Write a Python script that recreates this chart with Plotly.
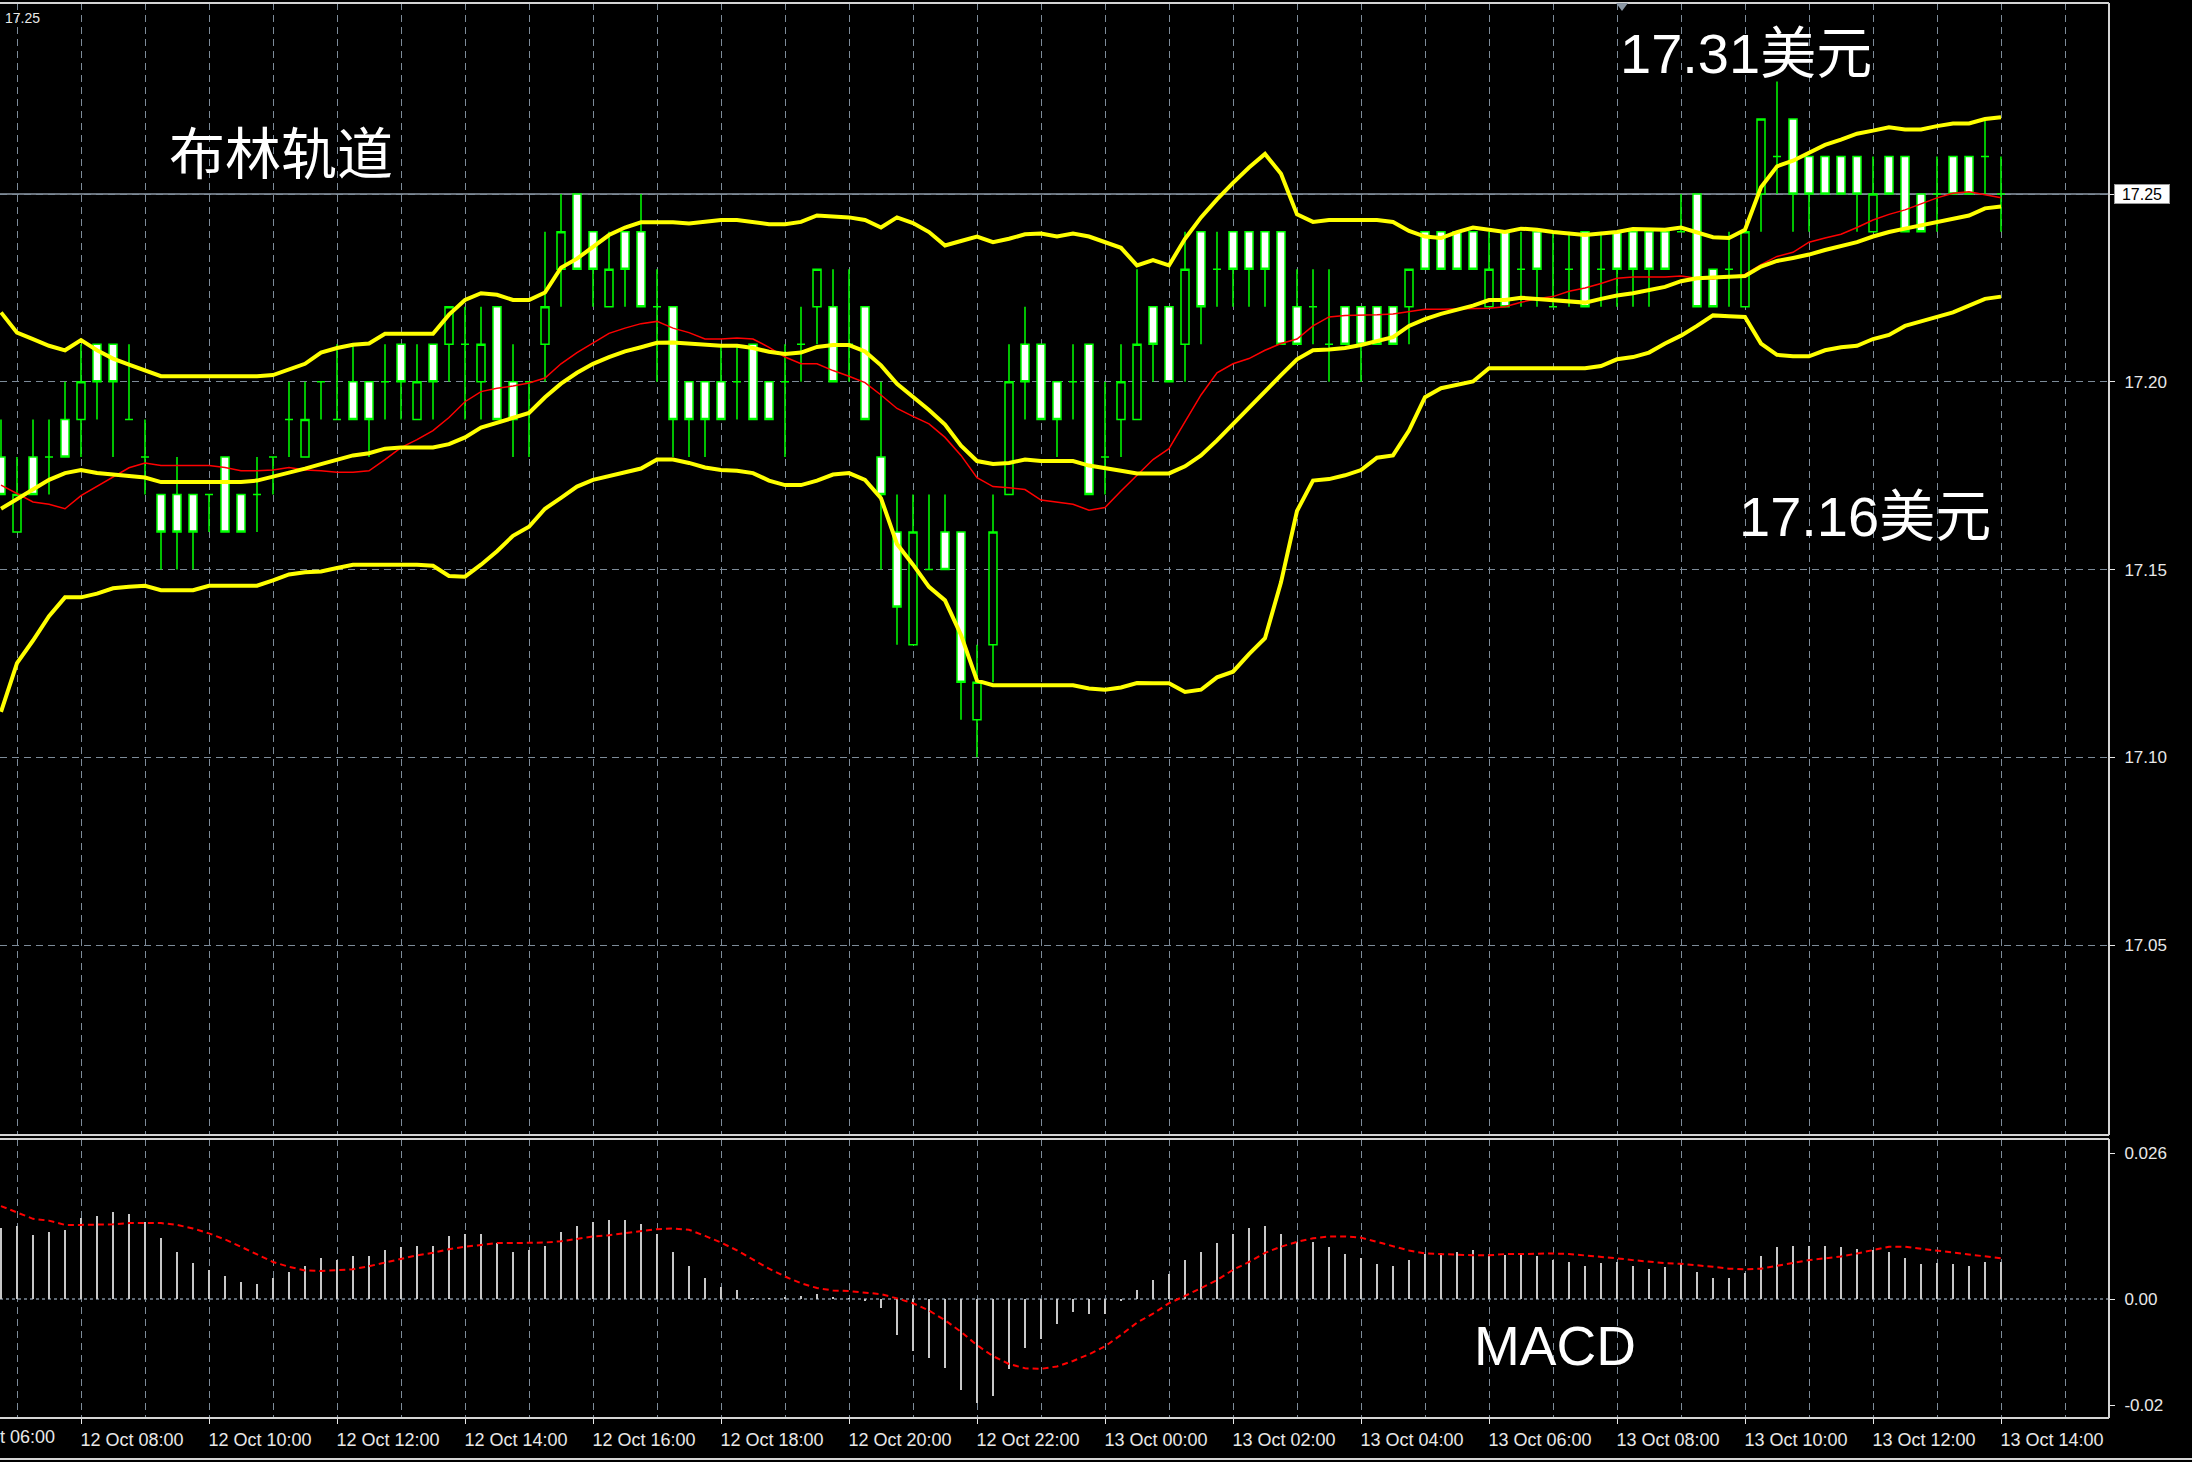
import pandas as pd
import plotly.graph_objects as go

# ---------------- data (XAG/USD, M15) ----------------
times = pd.date_range("2017-10-12 06:45", periods=126, freq="15min")

opens = [
17.18,17.16,17.18,17.18,17.19,17.19,17.21,17.21,17.19,17.18,
17.17,17.17,17.17,17.17,17.18,17.17,17.17,17.18,17.19,17.18,
17.20,17.19,17.20,17.20,17.20,17.21,17.19,17.21,17.21,17.21,
17.20,17.22,17.20,17.20,17.21,17.23,17.25,17.24,17.22,17.24,
17.24,17.22,17.22,17.20,17.20,17.20,17.20,17.21,17.20,17.20,
17.21,17.22,17.22,17.21,17.22,17.18,17.16,17.13,17.15,17.16,
17.16,17.11,17.13,17.17,17.21,17.21,17.20,17.20,17.21,17.18,
17.19,17.19,17.22,17.22,17.21,17.24,17.23,17.24,17.24,17.24,
17.24,17.22,17.22,17.21,17.22,17.22,17.22,17.22,17.22,17.24,
17.24,17.24,17.24,17.22,17.24,17.23,17.24,17.22,17.23,17.24,
17.23,17.24,17.24,17.24,17.24,17.24,17.25,17.23,17.23,17.22,
17.25,17.26,17.27,17.26,17.26,17.26,17.26,17.24,17.26,17.26,
17.25,17.25,17.26,17.26,17.26,17.25]

highs = [
17.19,17.18,17.19,17.19,17.20,17.21,17.21,17.21,17.21,17.19,
17.17,17.18,17.17,17.17,17.18,17.17,17.18,17.18,17.20,17.20,
17.20,17.21,17.21,17.20,17.21,17.21,17.21,17.21,17.22,17.22,
17.22,17.22,17.21,17.20,17.24,17.25,17.25,17.24,17.24,17.24,
17.25,17.23,17.22,17.20,17.20,17.21,17.21,17.21,17.20,17.21,
17.22,17.23,17.23,17.23,17.22,17.20,17.17,17.17,17.17,17.17,
17.16,17.13,17.17,17.21,17.22,17.21,17.20,17.21,17.21,17.20,
17.21,17.23,17.22,17.22,17.24,17.24,17.24,17.24,17.24,17.24,
17.24,17.23,17.23,17.23,17.22,17.22,17.22,17.22,17.23,17.24,
17.24,17.24,17.24,17.24,17.24,17.24,17.24,17.24,17.24,17.24,
17.24,17.24,17.24,17.24,17.24,17.25,17.25,17.23,17.24,17.24,
17.27,17.28,17.27,17.26,17.26,17.26,17.26,17.26,17.26,17.26,
17.25,17.26,17.26,17.26,17.27,17.26]

lows = [
17.17,17.16,17.17,17.17,17.18,17.18,17.19,17.18,17.19,17.17,
17.15,17.15,17.15,17.16,17.16,17.16,17.16,17.17,17.18,17.18,
17.19,17.19,17.19,17.18,17.19,17.19,17.19,17.19,17.20,17.19,
17.19,17.19,17.18,17.18,17.20,17.22,17.23,17.22,17.22,17.22,
17.22,17.20,17.18,17.18,17.18,17.19,17.19,17.19,17.19,17.18,
17.20,17.21,17.20,17.20,17.19,17.15,17.13,17.13,17.15,17.15,
17.11,17.10,17.12,17.17,17.19,17.19,17.18,17.19,17.17,17.17,
17.18,17.19,17.20,17.20,17.20,17.21,17.22,17.22,17.22,17.22,
17.21,17.21,17.21,17.20,17.21,17.20,17.21,17.21,17.21,17.23,
17.23,17.23,17.23,17.22,17.22,17.22,17.22,17.22,17.22,17.22,
17.22,17.22,17.22,17.22,17.23,17.24,17.22,17.22,17.22,17.22,
17.24,17.25,17.24,17.24,17.25,17.25,17.24,17.24,17.25,17.24,
17.24,17.24,17.25,17.25,17.25,17.24]

closes = [
17.17,17.17,17.17,17.18,17.18,17.20,17.20,17.20,17.19,17.18,
17.16,17.16,17.16,17.17,17.16,17.16,17.17,17.18,17.19,17.19,
17.20,17.19,17.19,17.19,17.20,17.20,17.20,17.20,17.22,17.21,
17.21,17.19,17.19,17.20,17.22,17.24,17.23,17.23,17.23,17.23,
17.22,17.22,17.19,17.19,17.19,17.19,17.20,17.19,17.19,17.20,
17.21,17.23,17.20,17.21,17.19,17.17,17.14,17.16,17.15,17.15,
17.12,17.12,17.16,17.20,17.20,17.19,17.19,17.20,17.17,17.18,
17.20,17.21,17.21,17.20,17.23,17.22,17.23,17.23,17.23,17.23,
17.21,17.21,17.22,17.21,17.21,17.21,17.21,17.21,17.23,17.23,
17.23,17.23,17.23,17.23,17.22,17.23,17.23,17.22,17.23,17.22,
17.23,17.23,17.23,17.23,17.23,17.24,17.22,17.22,17.23,17.24,
17.27,17.26,17.25,17.25,17.25,17.25,17.25,17.25,17.25,17.24,
17.24,17.25,17.25,17.25,17.26,17.25]

bb_upper = [
17.2185,17.2131,17.2114,17.2096,17.2084,17.2111,17.2084,17.2062,17.2046,17.2030,
17.2015,17.2015,17.2015,17.2015,17.2015,17.2015,17.2015,17.2018,17.2033,17.2048,
17.2078,17.2090,17.2099,17.2102,17.2128,17.2128,17.2128,17.2128,17.2179,17.2218,
17.2236,17.2232,17.2218,17.2218,17.2238,17.2304,17.2328,17.2360,17.2391,17.2411,
17.2425,17.2425,17.2425,17.2422,17.2426,17.2431,17.2431,17.2426,17.2420,17.2420,
17.2426,17.2443,17.2441,17.2438,17.2431,17.2411,17.2438,17.2423,17.2399,17.2363,
17.2375,17.2387,17.2372,17.2381,17.2393,17.2395,17.2387,17.2395,17.2387,17.2372,
17.2357,17.2310,17.2324,17.2310,17.2381,17.2438,17.2486,17.2530,17.2571,17.2607,
17.2554,17.2446,17.2426,17.2431,17.2431,17.2431,17.2431,17.2426,17.2402,17.2387,
17.2383,17.2399,17.2411,17.2405,17.2399,17.2408,17.2405,17.2399,17.2395,17.2391,
17.2395,17.2399,17.2407,17.2405,17.2405,17.2411,17.2399,17.2385,17.2383,17.2405,
17.2518,17.2574,17.2589,17.2609,17.2631,17.2645,17.2661,17.2669,17.2678,17.2672,
17.2672,17.2681,17.2688,17.2688,17.2700,17.2705]

bb_middle = [
17.1662,17.1688,17.1715,17.1739,17.1757,17.1765,17.1757,17.1753,17.1751,17.1745,
17.1733,17.1733,17.1733,17.1733,17.1733,17.1733,17.1737,17.1747,17.1757,17.1769,
17.1781,17.1793,17.1804,17.1810,17.1822,17.1825,17.1825,17.1825,17.1834,17.1852,
17.1878,17.1891,17.1903,17.1917,17.1959,17.1995,17.2024,17.2048,17.2066,17.2081,
17.2092,17.2104,17.2105,17.2102,17.2098,17.2096,17.2096,17.2090,17.2080,17.2074,
17.2078,17.2093,17.2098,17.2098,17.2081,17.2044,17.1995,17.1960,17.1925,17.1886,
17.1830,17.1789,17.1781,17.1784,17.1793,17.1789,17.1789,17.1789,17.1777,17.1769,
17.1763,17.1756,17.1756,17.1756,17.1775,17.1804,17.1844,17.1888,17.1929,17.1974,
17.2018,17.2060,17.2084,17.2086,17.2090,17.2098,17.2108,17.2119,17.2149,17.2167,
17.2181,17.2191,17.2203,17.2218,17.2218,17.2224,17.2221,17.2218,17.2215,17.2211,
17.2221,17.2230,17.2236,17.2244,17.2253,17.2268,17.2276,17.2278,17.2280,17.2282,
17.2307,17.2322,17.2330,17.2339,17.2351,17.2361,17.2372,17.2387,17.2399,17.2408,
17.2417,17.2426,17.2435,17.2443,17.2462,17.2467]

bb_lower = [
17.1121,17.1251,17.1311,17.1376,17.1426,17.1426,17.1436,17.1450,17.1454,17.1457,
17.1445,17.1445,17.1445,17.1457,17.1457,17.1457,17.1457,17.1471,17.1487,17.1493,
17.1495,17.1504,17.1513,17.1513,17.1513,17.1513,17.1513,17.1510,17.1483,17.1481,
17.1513,17.1549,17.1590,17.1614,17.1662,17.1691,17.1721,17.1739,17.1749,17.1760,
17.1769,17.1793,17.1793,17.1784,17.1772,17.1765,17.1763,17.1757,17.1737,17.1725,
17.1725,17.1737,17.1753,17.1757,17.1739,17.1690,17.1568,17.1513,17.1454,17.1418,
17.1326,17.1204,17.1192,17.1192,17.1192,17.1192,17.1192,17.1192,17.1183,17.1180,
17.1186,17.1198,17.1197,17.1197,17.1174,17.1180,17.1213,17.1228,17.1275,17.1317,
17.1466,17.1656,17.1737,17.1741,17.1751,17.1765,17.1798,17.1804,17.1870,17.1959,
17.1983,17.1991,17.2001,17.2036,17.2036,17.2036,17.2036,17.2036,17.2036,17.2036,
17.2042,17.2060,17.2066,17.2078,17.2102,17.2123,17.2149,17.2177,17.2175,17.2173,
17.2102,17.2072,17.2068,17.2068,17.2084,17.2092,17.2096,17.2114,17.2125,17.2149,
17.2161,17.2173,17.2185,17.2203,17.2221,17.2227]

ma_red = [
17.1725,17.1703,17.1680,17.1674,17.1662,17.1697,17.1721,17.1747,17.1771,17.1784,
17.1777,17.1777,17.1777,17.1777,17.1772,17.1763,17.1763,17.1765,17.1772,17.1765,
17.1763,17.1759,17.1759,17.1763,17.1793,17.1825,17.1846,17.1870,17.1905,17.1947,
17.1974,17.1983,17.1989,17.1997,17.2010,17.2048,17.2078,17.2104,17.2129,17.2143,
17.2155,17.2161,17.2143,17.2131,17.2114,17.2114,17.2117,17.2114,17.2092,17.2066,
17.2048,17.2048,17.2030,17.2015,17.1998,17.1965,17.1929,17.1908,17.1888,17.1852,
17.1804,17.1745,17.1721,17.1718,17.1713,17.1685,17.1680,17.1674,17.1658,17.1665,
17.1709,17.1751,17.1793,17.1822,17.1894,17.1965,17.2024,17.2048,17.2062,17.2084,
17.2102,17.2114,17.2149,17.2173,17.2177,17.2177,17.2179,17.2181,17.2188,17.2193,
17.2193,17.2194,17.2194,17.2196,17.2200,17.2212,17.2221,17.2227,17.2241,17.2250,
17.2262,17.2276,17.2279,17.2279,17.2279,17.2282,17.2276,17.2274,17.2280,17.2286,
17.2312,17.2334,17.2345,17.2372,17.2383,17.2393,17.2411,17.2431,17.2446,17.2458,
17.2474,17.2490,17.2502,17.2506,17.2498,17.2490]

macd_hist = [
0.0117,0.0120,0.0106,0.0110,0.0114,0.0134,0.0137,0.0143,0.0140,0.0126,
0.0100,0.0077,0.0060,0.0048,0.0038,0.0028,0.0025,0.0035,0.0045,0.0054,
0.0067,0.0064,0.0071,0.0071,0.0081,0.0085,0.0087,0.0087,0.0104,0.0107,
0.0107,0.0092,0.0077,0.0081,0.0087,0.0110,0.0120,0.0127,0.0130,0.0130,
0.0123,0.0107,0.0077,0.0054,0.0035,0.0020,0.0015,0.0001,0.0001,0.0004,
0.0005,0.0009,0.0004,0.0001,-0.0002,-0.0014,-0.0060,-0.0086,-0.0097,-0.0113,
-0.0149,-0.0172,-0.0159,-0.0116,-0.0080,-0.0066,-0.0041,-0.0021,-0.0024,-0.0024,
-0.0004,0.0015,0.0031,0.0041,0.0064,0.0078,0.0093,0.0107,0.0117,0.0120,
0.0107,0.0094,0.0094,0.0085,0.0074,0.0067,0.0058,0.0055,0.0064,0.0074,
0.0076,0.0078,0.0081,0.0074,0.0072,0.0074,0.0071,0.0065,0.0061,0.0055,
0.0060,0.0061,0.0055,0.0050,0.0052,0.0058,0.0044,0.0035,0.0035,0.0042,
0.0071,0.0085,0.0088,0.0088,0.0088,0.0086,0.0083,0.0080,0.0077,0.0067,
0.0058,0.0059,0.0058,0.0055,0.0061,0.0061]

macd_signal = [
0.0153,0.0142,0.0132,0.0129,0.0122,0.0122,0.0122,0.0123,0.0125,0.0125,
0.0125,0.0122,0.0116,0.0108,0.0098,0.0086,0.0074,0.0061,0.0053,0.0047,
0.0046,0.0047,0.0049,0.0054,0.0060,0.0066,0.0072,0.0076,0.0082,0.0086,
0.0089,0.0092,0.0092,0.0092,0.0093,0.0095,0.0099,0.0103,0.0105,0.0108,
0.0111,0.0115,0.0116,0.0114,0.0104,0.0093,0.0080,0.0065,0.0050,0.0037,
0.0026,0.0018,0.0014,0.0013,0.0010,0.0008,0.0001,-0.0007,-0.0019,-0.0035,
-0.0054,-0.0076,-0.0094,-0.0107,-0.0114,-0.0115,-0.0111,-0.0102,-0.0091,-0.0078,
-0.0059,-0.0039,-0.0024,-0.0007,0.0005,0.0018,0.0031,0.0048,0.0061,0.0076,
0.0086,0.0094,0.0100,0.0103,0.0103,0.0101,0.0094,0.0086,0.0080,0.0075,
0.0074,0.0072,0.0072,0.0072,0.0074,0.0074,0.0075,0.0075,0.0074,0.0072,
0.0070,0.0067,0.0064,0.0061,0.0059,0.0058,0.0056,0.0053,0.0050,0.0049,
0.0050,0.0055,0.0060,0.0064,0.0067,0.0070,0.0075,0.0081,0.0086,0.0086,
0.0083,0.0080,0.0077,0.0074,0.0071,0.0067]

price_ticks = [17.05, 17.10, 17.15, 17.20, 17.25]
price_labels = ["17.05", "17.10", "17.15", "17.20", ""]
last_price = 17.25
macd_tickvals = [0.024, 0.0, -0.0175]
macd_ticktext = ["0.026", "0.00", "-0.02"]

# ---------------- styling ----------------
W, H = 2192, 1462
ML, MR, MT, MB = 0, 83, 3, 44
PW, PH = W - ML - MR, H - MT - MB
GRID = "#7D8B99"
FG = "#E8E8E8"
BORDER = "#D4D4D4"
AX_FONT = dict(family="Liberation Sans, Arial, sans-serif", size=17, color=FG)
TIME_FONT = dict(family="Liberation Sans, Arial, sans-serif", size=18, color=FG)
TXT_FONT = "Liberation Sans, Arial, Noto Sans CJK SC, sans-serif"

def py(y_px):
    return (MT + PH - y_px) / PH

def px_(x_px):
    return (x_px - ML) / PW

fig = go.Figure()

fig.add_trace(go.Candlestick(
    x=times, open=opens, high=highs, low=lows, close=closes,
    increasing=dict(line=dict(color="#00FF00", width=1.5), fillcolor="#000000"),
    decreasing=dict(line=dict(color="#00FF00", width=1.5), fillcolor="#FFFFFF"),
    whiskerwidth=0, xaxis="x", yaxis="y", showlegend=False, hoverinfo="skip"))

fig.add_trace(go.Scatter(x=times, y=ma_red, mode="lines",
    line=dict(color="#FF0000", width=1.5), xaxis="x", yaxis="y", showlegend=False))
for band in (bb_upper, bb_middle, bb_lower):
    fig.add_trace(go.Scatter(x=times, y=band, mode="lines",
        line=dict(color="#FFFF00", width=4), xaxis="x", yaxis="y", showlegend=False))

fig.add_trace(go.Bar(x=times, y=macd_hist, width=112500, marker=dict(color="#C8C8C8", line=dict(width=0)),
    xaxis="x", yaxis="y2", showlegend=False))
fig.add_trace(go.Scatter(x=times, y=macd_signal, mode="lines",
    line=dict(color="#FF0000", width=2, dash="6px,4px"), xaxis="x", yaxis="y2", showlegend=False))

dom_main = [py(1135), 1.0]
dom_macd = [0.0, py(1139)]

fig.update_layout(
    width=W, height=H, margin=dict(l=ML, r=MR, t=MT, b=MB, pad=0),
    paper_bgcolor="#000000", plot_bgcolor="#000000",
    boxgap=0.5, boxgroupgap=0.0, bargap=0,
    showlegend=False,
    xaxis=dict(
        type="date", range=["2017-10-12 06:44:03.75", "2017-10-13 15:41:15"],
        domain=[0, 1], anchor="y2", fixedrange=True,
        tickmode="linear", tick0="2017-10-12 08:00", dtick=7200000,
        tickformat="%d %b %H:%M", ticks="outside", ticklen=5, tickwidth=1, tickcolor=FG,
        ticklabelshift=51, ticklabelstandoff=0,
        tickfont=TIME_FONT,
        showgrid=True, gridcolor=GRID, gridwidth=1, griddash="7px,5px",
        minor=dict(tickmode="linear", tick0="2017-10-12 07:00", dtick=3600000,
                   showgrid=True, gridcolor=GRID, gridwidth=1, griddash="7px,5px", ticks=""),
        rangeslider=dict(visible=False), zeroline=False, showline=False),
    yaxis=dict(
        domain=dom_main, range=[16.9994, 17.3009], side="right", anchor="x", fixedrange=True,
        tickmode="array", tickvals=price_ticks, ticktext=price_labels,
        ticks="outside", ticklen=5, tickcolor=FG, tickfont=AX_FONT, ticklabelstandoff=6,
        showgrid=True, gridcolor=GRID, gridwidth=1, griddash="7px,5px",
        zeroline=False, showline=False),
    yaxis2=dict(
        domain=dom_macd, range=[-0.01959, 0.02634], side="right", anchor="x", fixedrange=True,
        tickmode="array", tickvals=macd_tickvals, ticktext=macd_ticktext,
        ticks="outside", ticklen=5, tickcolor=FG, tickfont=AX_FONT, ticklabelstandoff=6,
        showgrid=False, zeroline=False, showline=False),
)

shapes = [
    dict(type="line", xref="paper", yref="y", x0=0, x1=1, y0=last_price, y1=last_price,
         line=dict(color="#8E9AA7", width=1.5), layer="below"),
    dict(type="line", xref="paper", yref="y2", x0=0, x1=1, y0=0, y1=0,
         line=dict(color=GRID, width=1.5, dash="3px,3px"), layer="below"),
]
for y0 in (1.0, dom_main[0], dom_macd[1], 0.0):
    shapes.append(dict(type="line", xref="paper", yref="paper", x0=0, x1=1, y0=y0, y1=y0,
                       line=dict(color=BORDER, width=2)))
shapes.append(dict(type="line", xref="paper", yref="paper", x0=1, x1=1, y0=dom_main[0], y1=1.0,
                   line=dict(color=BORDER, width=2)))
shapes.append(dict(type="line", xref="paper", yref="paper", x0=1, x1=1, y0=0, y1=dom_macd[1],
                   line=dict(color=BORDER, width=2)))
shapes.append(dict(type="line", xref="paper", yref="paper", x0=0, x1=W / PW, y0=py(1459), y1=py(1459),
                   line=dict(color=BORDER, width=2)))
tx, tw = px_(1622), 6 / PW
shapes.append(dict(type="path", xref="paper", yref="paper",
                   path=f"M {tx - tw},{py(3)} L {tx + tw},{py(3)} L {tx},{py(11)} Z",
                   fillcolor="#8A96A3", line=dict(width=0)))
fig.update_layout(shapes=shapes)

ann = [
    dict(text="布林轨道", x=px_(281), y=py(149), font=dict(family="Noto Sans CJK SC", size=56, color="white")),
    dict(text="17.31美元", x=px_(1746), y=py(54), font=dict(family=TXT_FONT, size=56, color="white")),
    dict(text="17.16美元", x=px_(1865), y=py(516), font=dict(family=TXT_FONT, size=56, color="white")),
    dict(text="MACD", x=px_(1555), y=py(1346), font=dict(family=TXT_FONT, size=55, color="white")),
]
for a in ann:
    a.update(xref="paper", yref="paper", xanchor="center", yanchor="middle", showarrow=False)
ann.append(dict(text="17.25", xref="paper", yref="paper", x=px_(3), y=py(18), xanchor="left",
                yanchor="middle", showarrow=False,
                font=dict(family="Liberation Sans, Arial, sans-serif", size=14, color=FG)))
# partially visible first time label (cut by the window edge, as in the original)
ann.append(dict(text="12 Oct 06:00", xref="paper", yref="paper", x=px_(-50), y=py(1437),
                xanchor="left", yanchor="middle", showarrow=False, font=TIME_FONT))
ann.append(dict(text="17.25", xref="paper", yref="y", x=px_(2142), y=last_price,
                xanchor="center", yanchor="middle", showarrow=False,
                width=54, height=18, bgcolor="#FFFFFF", bordercolor="#9A9A9A", borderwidth=1, borderpad=0,
                font=dict(family="Liberation Sans, Arial, sans-serif", size=16, color="#000000")))
fig.update_layout(annotations=ann)

fig.write_html("out.html", config={"displayModeBar": False},
               post_script="document.body.style.margin='0px';document.body.style.overflow='hidden';")
